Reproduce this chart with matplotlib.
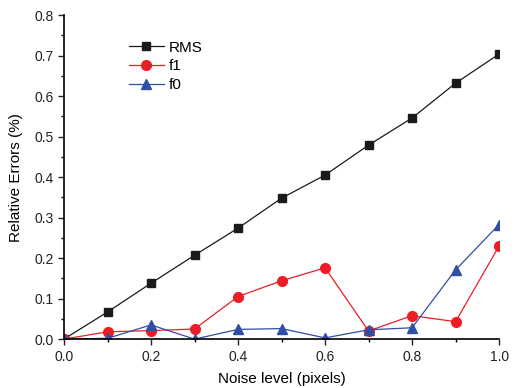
import numpy as np
import matplotlib.pyplot as plt
from matplotlib.ticker import MultipleLocator, FormatStrFormatter

plt.rcParams['font.family'] = ['Liberation Sans', 'DejaVu Sans']

noise = [0.0, 0.1, 0.2, 0.3, 0.4, 0.5, 0.6, 0.7, 0.8, 0.9, 1.0]
rms = [0.0, 0.067, 0.138, 0.207, 0.274, 0.348, 0.405, 0.479, 0.546, 0.632, 0.704]
f1 = [0.0, 0.018, 0.021, 0.025, 0.105, 0.144, 0.176, 0.020, 0.058, 0.043, 0.230]
f0 = [0.0, 0.002, 0.035, 0.0, 0.024, 0.026, 0.003, 0.023, 0.028, 0.171, 0.283]

fig = plt.figure(figsize=(5.14, 3.88), dpi=100)
ax = fig.add_axes([0.1245, 0.126, 0.8465, 0.835])

ax.plot(noise, rms, color='#1a1a1a', marker='s', ms=6, lw=0.9, label='RMS')
ax.plot(noise, f1, color='#ee1c25', marker='o', ms=7, lw=0.9, label='f1')
ax.plot(noise, f0, color='#2e4fa3', marker='^', ms=7, lw=0.9, label='f0')

ax.set_xlim(0, 1.0)
ax.set_ylim(0, 0.8)

ax.spines['right'].set_color('none')
ax.spines['top'].set_color('none')
ax.spines['left'].set_linewidth(1.2)
ax.spines['bottom'].set_linewidth(1.2)

ax.xaxis.set_major_locator(MultipleLocator(0.2))
ax.xaxis.set_minor_locator(MultipleLocator(0.1))
ax.yaxis.set_major_locator(MultipleLocator(0.1))
ax.yaxis.set_minor_locator(MultipleLocator(0.05))
ax.xaxis.set_major_formatter(FormatStrFormatter('%.1f'))
ax.yaxis.set_major_formatter(FormatStrFormatter('%.1f'))
ax.tick_params(which='major', direction='out', length=4, width=1, labelsize=10, colors='#222222')
ax.tick_params(which='minor', direction='out', length=2.5, width=1)

ax.set_xlabel('Noise level (pixels)', fontsize=11, labelpad=6)
ax.set_ylabel('Relative Errors (%)', fontsize=11, labelpad=8)

ax.legend(loc='upper left', bbox_to_anchor=(0.135, 0.94), frameon=False, fontsize=11,
          handlelength=2.3, handletextpad=0.3, labelspacing=0.3, borderaxespad=0)

plt.savefig("out.png", dpi=100)
